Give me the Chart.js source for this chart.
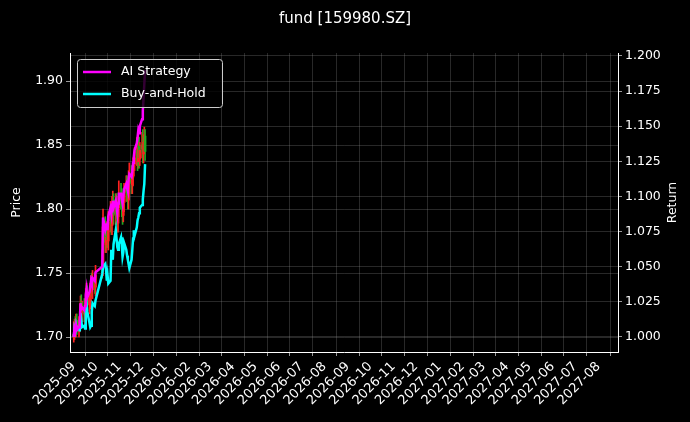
<!DOCTYPE html>
<html><head><meta charset="utf-8">
<script src="https://cdn.jsdelivr.net/npm/chart.js@4"></script>
<style>html,body{margin:0;background:#000}#w{width:690px;height:422px}</style>
</head><body><div id="w"><canvas id="c"></canvas></div>
<script>
const dates = [
"2025-09-01","2025-09-02","2025-09-03","2025-09-04","2025-09-05","2025-09-08","2025-09-09","2025-09-10","2025-09-11","2025-09-12","2025-09-15","2025-09-16","2025-09-17","2025-09-18","2025-09-19","2025-09-22","2025-09-23","2025-09-24","2025-09-25","2025-09-26","2025-09-29","2025-09-30",
"2025-10-09","2025-10-10","2025-10-13","2025-10-14","2025-10-15","2025-10-16","2025-10-17","2025-10-20","2025-10-21","2025-10-22","2025-10-23","2025-10-24","2025-10-27","2025-10-28","2025-10-29","2025-10-30","2025-10-31",
"2025-11-03","2025-11-04","2025-11-05","2025-11-06","2025-11-07","2025-11-10","2025-11-11","2025-11-12","2025-11-13","2025-11-14","2025-11-17","2025-11-18","2025-11-19","2025-11-20","2025-11-21","2025-11-24","2025-11-25","2025-11-26","2025-11-27","2025-11-28",
"2025-12-01","2025-12-02","2025-12-03","2025-12-04","2025-12-05"];
const opens = [1.700,1.703,1.709,1.704,1.713,1.707,1.711,1.714,1.727,1.719,1.723,1.717,1.723,1.731,1.735,1.725,1.731,1.735,1.743,1.737,1.745,1.739,
1.760,1.754,1.788,1.772,1.779,1.783,1.775,1.791,1.797,1.787,1.801,1.807,1.795,1.805,1.796,1.789,1.801,
1.812,1.809,1.801,1.795,1.805,1.813,1.819,1.811,1.807,1.821,1.827,1.819,1.825,1.833,1.835,1.839,1.846,1.837,1.849,1.839,
1.847,1.851,1.843,1.853,1.857];
const closes = [1.702,1.708,1.705,1.712,1.708,1.710,1.714,1.726,1.720,1.722,1.718,1.722,1.730,1.734,1.726,1.730,1.736,1.742,1.738,1.744,1.740,1.748,
1.752,1.786,1.774,1.778,1.782,1.776,1.790,1.796,1.788,1.800,1.806,1.796,1.804,1.795,1.790,1.800,1.810,
1.808,1.800,1.796,1.804,1.812,1.818,1.812,1.808,1.820,1.826,1.820,1.826,1.832,1.834,1.840,1.845,1.838,1.848,1.840,1.846,
1.850,1.844,1.852,1.856,1.845];
const highs = [1.712,1.714,1.716,1.718,1.718,1.716,1.720,1.732,1.733,1.728,1.730,1.728,1.738,1.742,1.740,1.736,1.742,1.748,1.750,1.752,1.750,1.756,
1.768,1.800,1.794,1.786,1.790,1.790,1.798,1.806,1.804,1.810,1.814,1.812,1.812,1.812,1.800,1.806,1.822,
1.820,1.816,1.808,1.812,1.820,1.826,1.826,1.818,1.830,1.836,1.834,1.832,1.840,1.842,1.848,1.856,1.852,1.858,1.856,1.852,
1.860,1.862,1.858,1.864,1.862];
const lows = [1.696,1.698,1.700,1.700,1.702,1.700,1.704,1.708,1.714,1.712,1.712,1.710,1.716,1.722,1.720,1.718,1.722,1.728,1.732,1.730,1.734,1.732,
1.746,1.748,1.766,1.766,1.770,1.770,1.768,1.782,1.780,1.780,1.792,1.788,1.788,1.788,1.782,1.782,1.794,
1.800,1.794,1.788,1.790,1.798,1.806,1.806,1.800,1.800,1.812,1.812,1.812,1.818,1.826,1.830,1.834,1.830,1.832,1.832,1.834,
1.840,1.836,1.836,1.846,1.838];
const aiStrategy = [1.000,1.006,1.004,1.008,1.005,1.007,1.010,1.024,1.020,1.021,1.019,1.022,1.030,1.034,1.028,1.032,1.036,1.040,1.038,1.042,1.040,1.046,
1.050,1.085,1.076,1.078,1.081,1.076,1.086,1.092,1.088,1.094,1.097,1.092,1.097,1.092,1.088,1.095,1.102,
1.102,1.098,1.095,1.100,1.105,1.109,1.106,1.104,1.112,1.116,1.114,1.118,1.124,1.128,1.133,1.138,1.142,1.147,1.145,1.150,
1.155,1.161,1.170,1.180,1.190];
const buyHold = [1.000,1.006,1.004,1.008,1.005,1.007,1.004,1.017,1.012,1.007,1.008,1.006,1.020,1.024,1.018,1.010,1.007,1.008,1.018,1.024,1.022,1.026,
1.045,1.050,1.052,1.048,1.040,1.044,1.038,1.040,1.062,1.058,1.055,1.066,1.076,1.070,1.064,1.062,1.066,
1.071,1.065,1.057,1.060,1.067,1.062,1.058,1.055,1.052,1.049,1.055,1.062,1.070,1.076,1.072,1.078,1.083,1.085,1.088,1.092,
1.094,1.098,1.104,1.109,1.123];
const priceTicks = [1.70,1.75,1.80,1.85,1.90];
const returnTicks = [1.000,1.025,1.050,1.075,1.100,1.125,1.150,1.175,1.200];
const monthTicks = ["2025-09","2025-10","2025-11","2025-12","2026-01","2026-02","2026-03","2026-04","2026-05","2026-06","2026-07","2026-08","2026-09","2026-10","2026-11","2026-12","2027-01","2027-02","2027-03","2027-04","2027-05","2027-06","2027-07","2027-08"];

const ts = s => { const p = s.split('-').map(Number); return Date.UTC(p[0], p[1]-1, p[2]||1); };
const xs = dates.map(ts);
const UP='#ff2020', DN='#22aa22';
const col = dates.map((d,i)=> closes[i]>=opens[i]?UP:DN);
const F = 'DejaVu Sans';

const legendPlugin = {
  id:'lg',
  afterDraw(ch){
    const c = ch.ctx, a = ch.chartArea;
    c.save();
    c.font = '12.5px "'+F+'"';
    const x0=a.left+7, y0=a.top+6, w=145, h=48;
    c.fillStyle='rgba(0,0,0,0.8)'; c.strokeStyle='#cccccc'; c.lineWidth=1;
    c.beginPath(); c.roundRect(x0+0.5,y0+0.5,w,h,3); c.fill(); c.stroke();
    const items=[['AI Strategy','#ff00ff'],['Buy-and-Hold','#00ffff']];
    items.forEach((it,i)=>{
      const yy=y0+13+i*22;
      c.strokeStyle=it[1]; c.lineWidth=2.5;
      c.beginPath(); c.moveTo(x0+6,yy); c.lineTo(x0+34,yy); c.stroke();
      c.fillStyle='#ffffff'; c.textBaseline='middle'; c.textAlign='left';
      c.fillText(it[0], x0+44, yy);
    });
    c.font = '15px "'+F+'"'; c.textAlign='center'; c.textBaseline='middle';
    c.fillText('fund [159980.SZ]', 345, 19);
    c.font = '12.5px "'+F+'"';
    const my=(a.top+a.bottom)/2;
    c.save(); c.translate(17,my); c.rotate(-Math.PI/2); c.fillText('Price',0,0); c.restore();
    c.save(); c.translate(673,my); c.rotate(-Math.PI/2); c.fillText('Return',0,0); c.restore();
    c.restore();
  }
};
const bgPlugin = {id:'bg', beforeDraw(ch){const c=ch.ctx;c.save();c.fillStyle='#000';c.fillRect(0,0,ch.width,ch.height);c.restore();}};

const grid = {color:'rgba(150,150,150,0.45)', borderDash:[2,2], lineWidth:0.6, tickColor:'#ffffff', tickLength:4, drawTicks:true};
new Chart(document.getElementById('c'), {
  data:{ datasets:[
    {type:'bar', label:'wick', data:xs.map((x,i)=>({x, y:[lows[i],highs[i]]})), backgroundColor:col, barThickness:1, yAxisID:'y', grouped:false, order:3},
    {type:'bar', label:'body', data:xs.map((x,i)=>({x, y:[opens[i],closes[i]]})), backgroundColor:col, barThickness:2, minBarLength:1, yAxisID:'y', grouped:false, order:2},
    {type:'line', label:'Buy-and-Hold', data:xs.map((x,i)=>({x,y:buyHold[i]})), borderColor:'#00ffff', borderWidth:2.5, pointRadius:0, yAxisID:'y2', order:1},
    {type:'line', label:'AI Strategy', data:xs.map((x,i)=>({x,y:aiStrategy[i]})), borderColor:'#ff00ff', borderWidth:2.5, pointRadius:0, yAxisID:'y2', order:0}
  ]},
  options:{
    responsive:true, maintainAspectRatio:false, animation:false,
    layout:{padding:{top:53,left:0,right:0,bottom:0}},
    plugins:{legend:{display:false}, tooltip:{enabled:false}},
    scales:{
      x:{type:'linear', min:Date.UTC(2025,7,27), max:Date.UTC(2027,7,27), offset:false,
        afterBuildTicks(s){ s.ticks = monthTicks.map(m=>({value:ts(m)})); },
        afterFit(s){ s.height=70; s.paddingRight=0; s.paddingLeft=0; },
        ticks:{color:'#fff', font:{family:F,size:13}, maxRotation:45, minRotation:45, autoSkip:false,
          callback:(v)=>{const d=new Date(v);return d.getUTCFullYear()+'-'+String(d.getUTCMonth()+1).padStart(2,'0');}},
        grid:grid, border:{color:'#fff'}},
      y:{position:'left', min:1.6883, max:1.9219,
        afterBuildTicks(s){ s.ticks = priceTicks.map(v=>({value:v})); },
        afterFit(s){ s.width=70; },
        ticks:{color:'#fff', font:{family:F,size:12.5}, callback:v=>v.toFixed(2)},
        grid:grid, border:{color:'#fff'}},
      y2:{position:'right', min:0.9893, max:1.2021,
        afterBuildTicks(s){ s.ticks = returnTicks.map(v=>({value:v})); },
        afterFit(s){ s.width=72; },
        ticks:{color:'#fff', font:{family:F,size:12.5}, callback:v=>v.toFixed(3)},
        grid:grid, border:{color:'#fff'}}
    }
  },
  plugins:[bgPlugin, legendPlugin]
});
</script></body></html>
